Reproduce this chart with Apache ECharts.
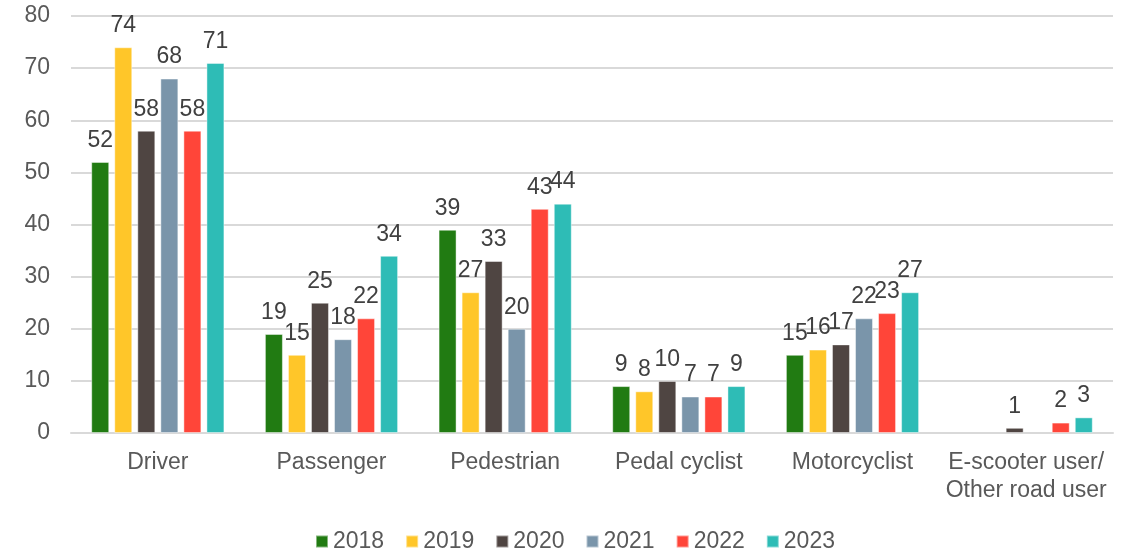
<!DOCTYPE html>
<html>
<head>
<meta charset="utf-8">
<style>
  html, body { margin: 0; padding: 0; background: #fff; }
  #chart { width: 1130px; height: 553px; }
</style>
<script src="https://cdn.jsdelivr.net/npm/echarts@6/dist/echarts.min.js"></script>
</head>
<body>
<div id="chart"></div>
<script>
// categories and values
const categories = ['Driver', 'Passenger', 'Pedestrian', 'Pedal cyclist', 'Motorcyclist', 'E-scooter user/\nOther road user'];
const years = ['2018', '2019', '2020', '2021', '2022', '2023'];
const v2018 = [52, 19, 39, 9, 15, null];
const v2019 = [74, 15, 27, 8, 16, null];
const v2020 = [58, 25, 33, 10, 17, 1];
const v2021 = [68, 18, 20, 7, 22, null];
const v2022 = [58, 22, 43, 7, 23, 2];
const v2023 = [71, 34, 44, 9, 27, 3];
const yTicks = [0, 10, 20, 30, 40, 50, 60, 70, 80];

const values = [v2018, v2019, v2020, v2021, v2022, v2023];
const colors = ['#217b12', '#ffc629', '#4f4542', '#7a95aa', '#ff4539', '#2ebcb6'];
const font = 'Arial, "Liberation Sans", sans-serif';

const chart = echarts.init(document.getElementById('chart'));
chart.setOption({
  animation: false,
  textStyle: { fontFamily: font },
  grid: { left: 71, right: 17, top: 16, bottom: 120 },
  legend: {
    bottom: -5,
    left: 310,
    itemWidth: 12,
    itemHeight: 12,
    itemGap: 21,
    icon: 'rect',
    textStyle: { fontSize: 23, color: '#595959', fontFamily: font },
    data: years
  },
  xAxis: {
    type: 'category',
    data: categories,
    axisLine: { lineStyle: { color: '#d9d9d9', width: 2 } },
    axisTick: { show: false },
    axisLabel: { interval: 0, fontSize: 23, color: '#595959', margin: 16, lineHeight: 28, fontFamily: font }
  },
  yAxis: {
    type: 'value',
    min: yTicks[0],
    max: yTicks[yTicks.length - 1],
    interval: 10,
    axisLine: { show: false },
    axisTick: { show: false },
    splitLine: { lineStyle: { color: '#d9d9d9', width: 2 } },
    axisLabel: { fontSize: 23, color: '#595959', margin: 21, fontFamily: font }
  },
  series: years.map((y, i) => ({
    name: y,
    type: 'bar',
    data: values[i],
    barWidth: 18,
    barGap: '28%',
    itemStyle: { color: colors[i], borderColor: 'rgba(255,255,255,0.45)', borderWidth: 1 },
    label: {
      show: true,
      position: 'top',
      distance: 10,
      fontSize: 23,
      color: '#404040',
      fontFamily: font
    }
  }))
});
</script>
</body>
</html>
